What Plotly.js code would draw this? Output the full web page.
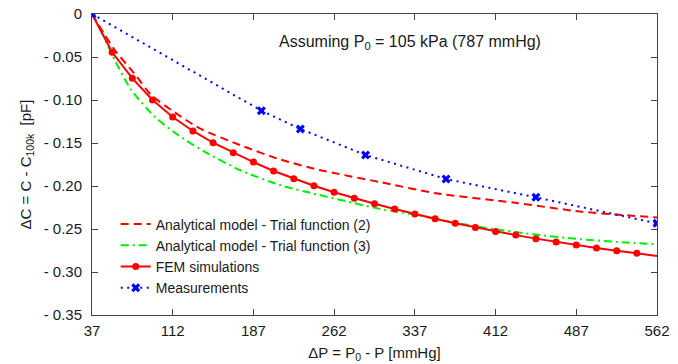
<!DOCTYPE html>
<html>
<head>
<meta charset="utf-8">
<script src="https://cdn.plot.ly/plotly-3.0.1.min.js"></script>
<style>html,body{margin:0;padding:0;background:#fff;}#chart{width:678px;height:364px;}</style>
</head>
<body>
<div id="chart"></div>
<script>
// ---- data ----
const xTickVals = [37, 112, 187, 262, 337, 412, 487, 562];
const yTickVals = [0, -0.05, -0.10, -0.15, -0.20, -0.25, -0.30, -0.35];
const yTickText = ["0", "- 0.05", "- 0.10", "- 0.15", "- 0.20", "- 0.25", "- 0.30", "- 0.35"];

const trial2X = [37, 57.4, 76.2, 92, 110.6, 137.2, 174.3, 211.4, 248.5, 304.1, 356.7, 430, 492, 562];
const trial2Y = [0, -0.0407, -0.069, -0.0942, -0.1116, -0.1331, -0.1523, -0.169, -0.1814, -0.1953, -0.2085, -0.2195, -0.2299, -0.2366];

const trial3X = [37, 42.8, 58.1, 73.5, 95.2, 116.8, 141.5, 174.3, 211.4, 248.5, 304.1, 337, 374, 412, 449.5, 487, 524.5, 562];
const trial3Y = [0, -0.0128, -0.0535, -0.0884, -0.1194, -0.1407, -0.1601, -0.1814, -0.1988, -0.2105, -0.2265, -0.2333, -0.2425, -0.2503, -0.2565, -0.2615, -0.2650, -0.2678];

const femX = [37, 55.75, 74.5, 93.25, 112, 130.75, 149.5, 168.25, 187, 205.75, 224.5, 243.25, 262, 280.75, 299.5, 318.25, 337, 355.75, 374.5, 393.25, 412, 430.75, 449.5, 468.25, 487, 505.75, 524.5, 543.25];
const femY = [0, -0.0445, -0.0748, -0.1000, -0.1198, -0.1360, -0.1497, -0.1613, -0.1722, -0.1825, -0.1915, -0.1997, -0.2072, -0.2142, -0.2206, -0.2268, -0.2326, -0.2381, -0.2433, -0.2482, -0.2528, -0.2571, -0.2612, -0.2650, -0.2686, -0.2720, -0.2752, -0.2782];
const femTailX = [543.25, 562];
const femTailY = [-0.2782, -0.2815];

const measX = [37, 194.4, 230.6, 291.2, 366, 449.5, 562];
const measY = [0, -0.1124, -0.1337, -0.164, -0.1919, -0.2132, -0.2434];

// ---- chart ----
const FONT = "Liberation Sans, Arial, Helvetica, sans-serif";
const traces = [
  {x: trial2X, y: trial2Y, mode: "lines", name: "Analytical model - Trial function (2)",
   line: {color: "#ff0000", width: 2, dash: "8px,5px", shape: "spline", smoothing: 0.6}},
  {x: trial3X, y: trial3Y, mode: "lines", name: "Analytical model - Trial function (3)",
   line: {color: "#00ee00", width: 2, dash: "8px,4px,2px,4px", shape: "spline", smoothing: 0.6}},
  {x: femTailX, y: femTailY, mode: "lines", showlegend: false, hoverinfo: "skip",
   line: {color: "#ff0000", width: 2}},
  {x: femX, y: femY, mode: "lines+markers", name: "FEM simulations",
   line: {color: "#ff0000", width: 2},
   marker: {color: "#ff0000", size: 7, symbol: "circle"}},
  {x: measX, y: measY, mode: "lines+markers", name: "Measurements",
   line: {color: "#0000ff", width: 2, dash: "2px,4.5px"},
   marker: {color: "#0000ff", size: 8, symbol: "x"}}
];

const layout = {
  width: 678, height: 364,
  margin: {l: 92, r: 21, t: 14, b: 49},
  paper_bgcolor: "#fff", plot_bgcolor: "#fff",
  font: {family: FONT, size: 15, color: "#1a1a1a"},
  showlegend: true,
  legend: {x: 0.042, y: 0.354, xanchor: "left", yanchor: "top",
           bgcolor: "rgba(0,0,0,0)", borderwidth: 0,
           font: {family: FONT, size: 14, color: "#1a1a1a"}, tracegroupgap: 0},
  xaxis: {range: [37, 562], tickmode: "array", tickvals: xTickVals, ticktext: xTickVals.map(String),
          ticks: "inside", ticklen: 6, tickcolor: "#444", showline: true, linecolor: "#444", linewidth: 1,
          mirror: "ticks", showgrid: false, zeroline: false, ticklabelstandoff: 2,
          title: {text: "ΔP = P<sub>0</sub> - P [mmHg]", font: {family: FONT, size: 15}, standoff: 9}},
  yaxis: {range: [-0.35, 0], tickmode: "array", tickvals: yTickVals, ticktext: yTickText,
          ticks: "inside", ticklen: 6, tickcolor: "#444", showline: true, linecolor: "#444", linewidth: 1,
          mirror: "ticks", showgrid: false, zeroline: false, ticklabelstandoff: 6,
          title: {text: "ΔC = C - C<sub>100k</sub>&nbsp; [pF]", font: {family: FONT, size: 15}, standoff: 8}},
  annotations: [{xref: "paper", yref: "paper", x: 0.563, y: 0.905, xanchor: "center", yanchor: "middle",
                 showarrow: false, text: "Assuming P<sub>0</sub> = 105 kPa (787 mmHg)",
                 font: {family: FONT, size: 16, color: "#1a1a1a"}}]
};

Plotly.newPlot("chart", traces, layout, {displayModeBar: false, staticPlot: true});
</script>
</body>
</html>
